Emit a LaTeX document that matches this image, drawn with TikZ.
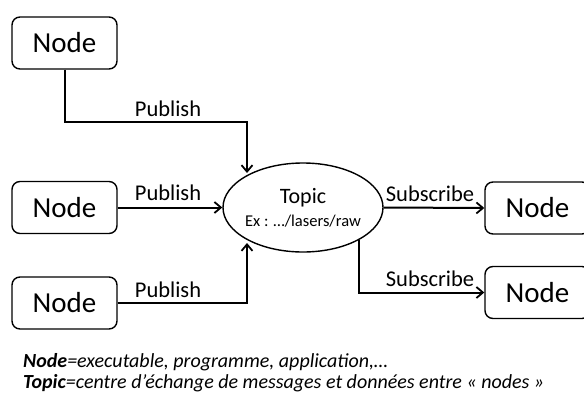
\documentclass[tikz,border=0pt]{standalone}
\usepackage{fontspec}
\setmainfont{Carlito}
\usetikzlibrary{arrows.meta,shapes.geometric}
\begin{document}
\begin{tikzpicture}[x=1pt,y=-1pt,
  nodebox/.style={draw,line width=1.4pt,rounded corners=8pt,minimum width=105pt,minimum height=52pt,inner sep=0pt,font=\fontsize{29}{30}\selectfont},
  conn/.style={line width=2pt,-{Straight Barb[length=6.5pt,width=11pt,line width=1.8pt]}},
  lbl/.style={font=\fontsize{22.5}{24}\selectfont,inner sep=0pt,anchor=base},
  legend/.style={font=\fontsize{20}{22}\selectfont\itshape,inner sep=0pt,anchor=base west}]
\useasboundingbox (0,0) rectangle (584,394);
\clip (0,0) rectangle (584,394);
\node[nodebox] (n1) at (64.5,43) {Node};
\node[nodebox] (n2) at (64.5,207.5) {Node};
\node[nodebox] (n3) at (64.5,303) {Node};
\node[nodebox] (n4) at (537.5,208) {Node};
\node[nodebox] (n5) at (537.5,292.5) {Node};
\node[draw,ellipse,line width=1.4pt,minimum width=160pt,minimum height=89pt,inner sep=0pt] (topic) at (303,207.5) {};
\node[font=\fontsize{22}{24}\selectfont,anchor=base] (tt) at (303,203) {Topic};
\node[font=\fontsize{16.5}{18}\selectfont,anchor=base] (ex) at (303,226) {Ex : …/lasers/raw};
\coordinate (t1) at (247,173);
\coordinate (t3) at (247,243);
\coordinate (s2) at (359,240);
\draw[conn] (n1.south) |- (247,122) -- (t1);
\draw[conn] (n2.east) -- (topic.west);
\draw[conn] (n3.east) -| (t3);
\draw[conn] (topic.east) -- (n4.west);
\draw[conn] (s2) |- (n5.west);
\node[lbl] (p1) at (168,116) {Publish};
\node[lbl] (p2) at (168,200) {Publish};
\node[lbl] (p3) at (168,297) {Publish};
\node[lbl] (s1l) at (430,201) {Subscribe};
\node[lbl] (s2l) at (430,286) {Subscribe};
\node[legend] (l1) at (23,367) {\textbf{Node}=executable, programme, application,…};
\node[legend] (l2) at (23,388) {\textbf{Topic}=centre d’échange de messages et données entre « nodes »};
\end{tikzpicture}
\end{document}
